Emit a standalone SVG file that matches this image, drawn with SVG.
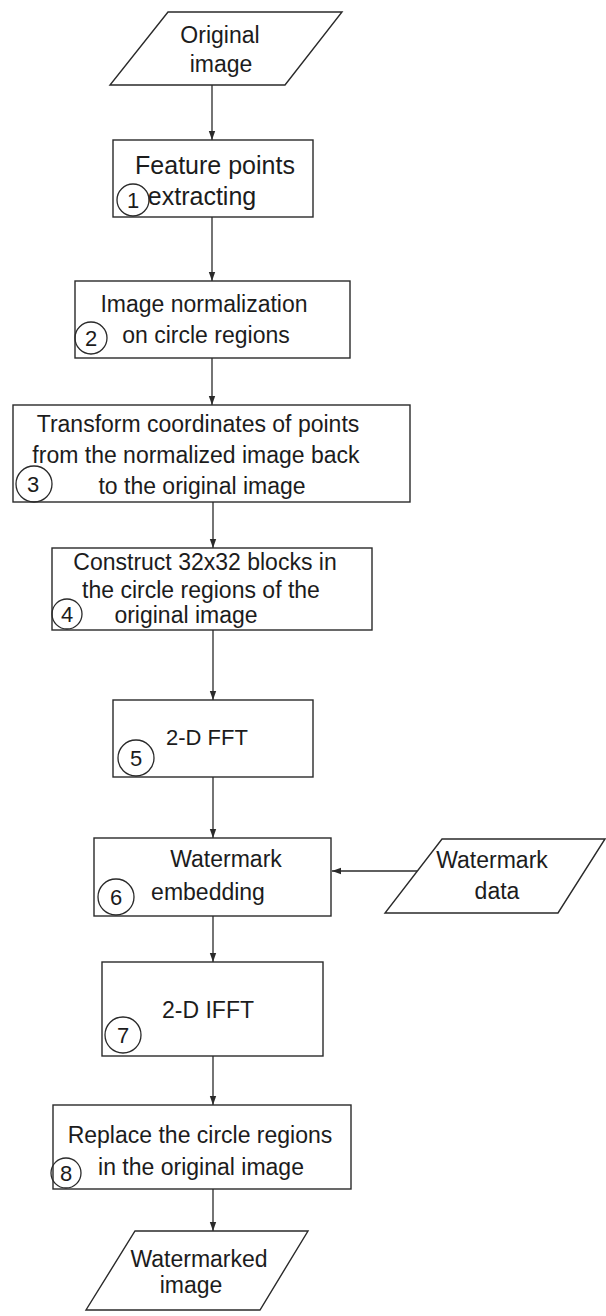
<svg xmlns="http://www.w3.org/2000/svg" width="606" height="1316" viewBox="0 0 606 1316">
  <style>
    .shape { fill: #ffffff; stroke: #2a2a2a; stroke-width: 1.4; }
    .badge { fill: none; stroke: #2a2a2a; stroke-width: 1.3; }
    .link { fill: none; stroke: #2a2a2a; stroke-width: 1.3; }
    text { font-family: "Liberation Sans", Arial, sans-serif; font-size: 23px; fill: #1c1c1c; text-anchor: middle; }
    .num { font-size: 22px; }
  </style>
  <defs>
    <marker id="arrow" markerUnits="userSpaceOnUse" markerWidth="10" markerHeight="8" refX="9" refY="4" orient="auto">
      <path d="M0,0.8 L9,4 L0,7.2 z" fill="#2a2a2a"/>
    </marker>
  </defs>
  <rect width="606" height="1316" fill="#ffffff"/>

  <!-- connectors -->
  <g id="connectors">
    <line class="link" x1="212" y1="85" x2="212" y2="140" marker-end="url(#arrow)"/>
    <line class="link" x1="212" y1="217" x2="212" y2="281" marker-end="url(#arrow)"/>
    <line class="link" x1="212" y1="358" x2="212" y2="405" marker-end="url(#arrow)"/>
    <line class="link" x1="213" y1="502" x2="213" y2="548" marker-end="url(#arrow)"/>
    <line class="link" x1="213" y1="630" x2="213" y2="700" marker-end="url(#arrow)"/>
    <line class="link" x1="213" y1="777" x2="213" y2="838" marker-end="url(#arrow)"/>
    <line class="link" x1="213" y1="916" x2="213" y2="962" marker-end="url(#arrow)"/>
    <line class="link" x1="213" y1="1056" x2="213" y2="1105" marker-end="url(#arrow)"/>
    <line class="link" x1="213" y1="1189" x2="213" y2="1231" marker-end="url(#arrow)"/>
    <line class="link" x1="417" y1="871" x2="332" y2="871" marker-end="url(#arrow)"/>
  </g>

  <!-- input image -->
  <g id="original-image">
    <polygon class="shape" points="168,12 342,12 285,85 110,85"/>
    <text x="220" y="43">Original</text>
    <text x="221" y="72">image</text>
  </g>

  <!-- step 1 -->
  <g id="step1">
    <rect class="shape" x="113" y="140" width="200" height="77"/>
    <text x="215" y="174" style="font-size:25px">Feature points</text>
    <text x="202" y="205" style="font-size:25px">extracting</text>
    <circle class="badge" cx="133" cy="200" r="16"/>
    <text class="num" x="133" y="208">1</text>
  </g>

  <!-- step 2 -->
  <g id="step2">
    <rect class="shape" x="75" y="281" width="275" height="77"/>
    <text x="204" y="312">Image normalization</text>
    <text x="206" y="343">on circle regions</text>
    <circle class="badge" cx="91" cy="338" r="16"/>
    <text class="num" x="91" y="346">2</text>
  </g>

  <!-- step 3 -->
  <g id="step3">
    <rect class="shape" x="13" y="405" width="397" height="97"/>
    <text x="198" y="432">Transform coordinates of points</text>
    <text x="196" y="463">from the normalized image back</text>
    <text x="202" y="494">to the original image</text>
    <circle class="badge" cx="34" cy="484" r="18"/>
    <text class="num" x="33" y="492">3</text>
  </g>

  <!-- step 4 -->
  <g id="step4">
    <rect class="shape" x="52" y="548" width="320" height="82"/>
    <text x="205" y="570">Construct 32x32 blocks in</text>
    <text x="201" y="598">the circle regions of the</text>
    <text x="186" y="623">original image</text>
    <circle class="badge" cx="67" cy="614" r="15"/>
    <text class="num" x="67" y="622">4</text>
  </g>

  <!-- step 5 -->
  <g id="step5">
    <rect class="shape" x="113" y="700" width="200" height="77"/>
    <text x="207" y="745" style="font-size:22px">2-D FFT</text>
    <circle class="badge" cx="136" cy="758" r="18"/>
    <text class="num" x="136" y="766">5</text>
  </g>

  <!-- step 6 -->
  <g id="step6">
    <rect class="shape" x="94" y="838" width="237" height="78"/>
    <text x="226" y="867">Watermark</text>
    <text x="208" y="900">embedding</text>
    <circle class="badge" cx="116" cy="897" r="18"/>
    <text class="num" x="116" y="905">6</text>
  </g>

  <!-- watermark input -->
  <g id="watermark-data">
    <polygon class="shape" points="442,839 605,839 558,913 385,913"/>
    <text x="492" y="868">Watermark</text>
    <text x="497" y="899">data</text>
  </g>

  <!-- step 7 -->
  <g id="step7">
    <rect class="shape" x="102" y="962" width="221" height="94"/>
    <text x="208" y="1018">2-D IFFT</text>
    <circle class="badge" cx="123" cy="1035" r="18"/>
    <text class="num" x="123" y="1043">7</text>
  </g>

  <!-- step 8 -->
  <g id="step8">
    <rect class="shape" x="53" y="1105" width="298" height="84"/>
    <text x="200" y="1143">Replace the circle regions</text>
    <text x="201" y="1175">in the original image</text>
    <circle class="badge" cx="66" cy="1173" r="15"/>
    <text class="num" x="66" y="1181">8</text>
  </g>

  <!-- output image -->
  <g id="watermarked-image">
    <polygon class="shape" points="135,1231 308,1231 260,1310 86,1310"/>
    <text x="199" y="1267">Watermarked</text>
    <text x="191" y="1293">image</text>
  </g>
</svg>
